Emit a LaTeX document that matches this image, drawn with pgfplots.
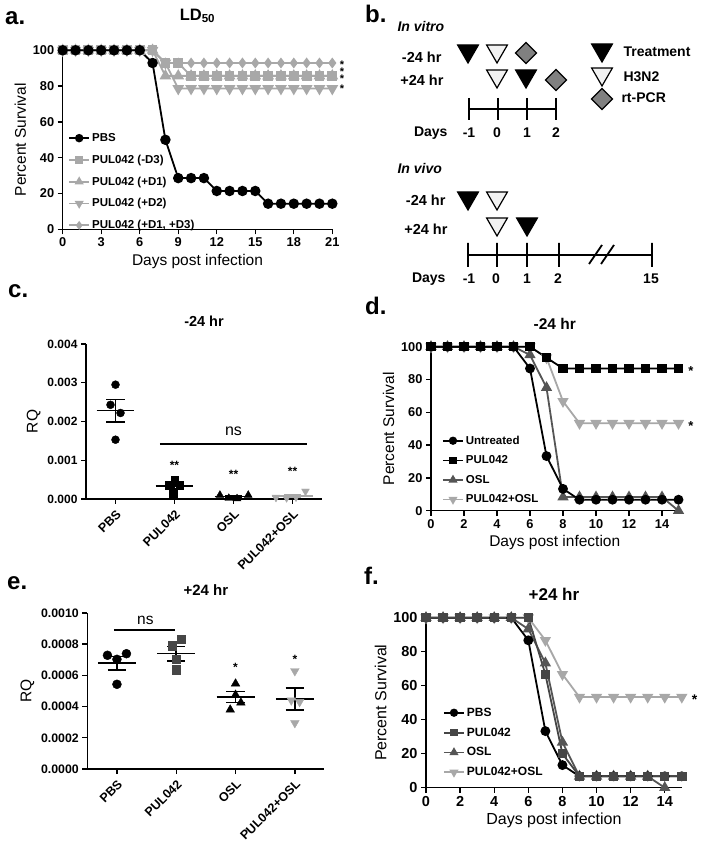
\documentclass[border=0pt]{standalone}
\usepackage{fontspec}
\setmainfont{Liberation Sans}
\usepackage{pgfplots}
\pgfplotsset{compat=1.18}
\definecolor{lg}{RGB}{168,168,168}
\definecolor{dg}{RGB}{85,85,85}
\definecolor{dg2}{RGB}{70,70,70}
\definecolor{diam}{RGB}{128,128,128}
\definecolor{openf}{RGB}{242,242,242}
\newcommand{\fs}[1]{\fontsize{#1}{#1}\selectfont}
\tikzset{
  curve/.style={line width=1.8pt},
  ml/.style={black, line width=1.6pt},
  st/.style={font=\bfseries\fs{12}, anchor=base, yshift=-7pt, inner sep=0pt},
}
\pgfplotsset{
  prism/.style={
    scale only axis, clip=false, anchor=south west,
    axis lines*=left,
    axis line style={line width=1.4pt, black},
    tick align=outside,
    major tick length=5pt,
    tick style={line width=1.4pt, black},
    tick label style={font=\bfseries\fs{12.8}},
    label style={font=\fs{15.5}},
    title style={font=\bfseries\fs{15}, yshift=8pt},
    /pgf/number format/assume math mode=true,
    legend cell align=left,
    legend style={draw=none, fill=none, font=\bfseries\fs{11.5}, anchor=north west, row sep=6pt, inner sep=0pt},
    legend image code/.code={\draw[mark repeat=2,mark phase=2,##1] plot coordinates {(0pt,0pt) (10pt,0pt) (20pt,0pt)};},
    unbounded coords=jump,
  },
}
\begin{document}
\begin{tikzpicture}
\path[use as bounding box] (0pt,0pt) rectangle (704pt,842pt);
% panel letters
\node[anchor=base west, font=\bfseries\fs{24}, inner sep=0pt] at (5pt,817pt) {a.};
\node[anchor=base west, font=\bfseries\fs{24}, inner sep=0pt] at (365pt,819pt) {b.};
\node[anchor=base west, font=\bfseries\fs{24}, inner sep=0pt] at (8pt,544pt) {c.};
\node[anchor=base west, font=\bfseries\fs{24}, inner sep=0pt] at (365pt,527pt) {d.};
\node[anchor=base west, font=\bfseries\fs{24}, inner sep=0pt] at (7pt,252pt) {e.};
\node[anchor=base west, font=\bfseries\fs{24}, inner sep=0pt] at (364pt,257pt) {f.};

% ---------------- panel a
\begin{axis}[prism, at={(62.7pt,612.7pt)}, width=269.6pt, height=179pt,
  xmin=0, xmax=21, ymin=0, ymax=100, xtick={0,3,...,21}, ytick={0,20,...,100},
  xlabel={Days post infection}, ylabel={Percent Survival},
  title={LD\textsubscript{50}}, title style={font=\bfseries\fs{16.5}, yshift=10pt},
  legend style={at={(0.02,0.548)}, row sep=8pt}]
\addlegendimage{black, curve, mark=*, mark size=3.3pt}
\addlegendentry{PBS}
\addlegendimage{lg, curve, mark=square*, mark size=2.8pt}
\addlegendentry{PUL042 (-D3)}
\addlegendimage{lg, curve, mark=triangle*, mark size=3.5pt}
\addlegendentry{PUL042 (+D1)}
\addlegendimage{lg, curve, mark=triangle*, mark size=3.5pt, mark options={rotate=180}}
\addlegendentry{PUL042 (+D2)}
\addlegendimage{lg, curve, mark=diamond*, mark size=3pt}
\addlegendentry{PUL042 (+D1, +D3)}
\addplot[forget plot, lg, curve, mark=triangle*, mark size=5pt, mark options={rotate=180}] coordinates {(0,100)(1,100)(2,100)(3,100)(4,100)(5,100)(6,100)(7,100)(8,92.9)(9,78.6)(10,78.6)(11,78.6)(12,78.6)(13,78.6)(14,78.6)(15,78.6)(16,78.6)(17,78.6)(18,78.6)(19,78.6)(20,78.6)(21,78.6)};
\addplot[forget plot, lg, curve, mark=triangle*, mark size=5pt] coordinates {(0,100)(1,100)(2,100)(3,100)(4,100)(5,100)(6,100)(7,100)(8,85.7)(9,85.7)(10,85.7)(11,85.7)(12,85.7)(13,85.7)(14,85.7)(15,85.7)(16,85.7)(17,85.7)(18,85.7)(19,85.7)(20,85.7)(21,85.7)};
\addplot[forget plot, lg, curve, mark=square*, mark size=4pt] coordinates {(0,100)(1,100)(2,100)(3,100)(4,100)(5,100)(6,100)(7,100)(8,92.9)(9,92.9)(10,85.7)(11,85.7)(12,85.7)(13,85.7)(14,85.7)(15,85.7)(16,85.7)(17,85.7)(18,85.7)(19,85.7)(20,85.7)(21,85.7)};
\addplot[forget plot, lg, curve, mark=diamond*, mark size=4pt] coordinates {(0,100)(1,100)(2,100)(3,100)(4,100)(5,100)(6,100)(7,100)(8,92.9)(9,92.9)(10,92.9)(11,92.9)(12,92.9)(13,92.9)(14,92.9)(15,92.9)(16,92.9)(17,92.9)(18,92.9)(19,92.9)(20,92.9)(21,92.9)};
\addplot[forget plot, black, curve, mark=*, mark size=4.3pt] coordinates {(0,100)(1,100)(2,100)(3,100)(4,100)(5,100)(6,100)(7,92.9)(8,50)(9,28.6)(10,28.6)(11,28.6)(12,21.4)(13,21.4)(14,21.4)(15,21.4)(16,14.3)(17,14.3)(18,14.3)(19,14.3)(20,14.3)(21,14.3)};
\node[st, font=\bfseries\fs{11}, yshift=1pt] at (axis cs:21.75,93) {*};
\node[st, font=\bfseries\fs{11}, yshift=1pt] at (axis cs:21.75,89.3) {*};
\node[st, font=\bfseries\fs{11}, yshift=1pt] at (axis cs:21.75,85.5) {*};
\node[st, font=\bfseries\fs{11}, yshift=1pt] at (axis cs:21.75,79.5) {*};
\end{axis}

% ---------------- panel b (schematic)
\begin{axis}[at={(352pt,522pt)}, anchor=south west, scale only axis, width=352pt, height=320pt,
  xmin=0, xmax=352, ymin=0, ymax=320, y dir=reverse, hide axis, clip=false, unbounded coords=jump]
\addplot[black, line width=1.8pt] coordinates {(117,109)(204,109) (0,nan) (117,98)(117,120) (0,nan) (146,98)(146,120) (0,nan) (175,98)(175,120) (0,nan) (204,98)(204,120)};
\addplot[black, line width=1.8pt] coordinates {(116,255)(300,255) (0,nan) (116,243)(116,267) (0,nan) (145,243)(145,267) (0,nan) (175,243)(175,267) (0,nan) (207,243)(207,267) (0,nan) (300,243)(300,267) (0,nan) (237,264)(250,245) (0,nan) (249,264)(262,245)};
\addplot[only marks, mark=triangle*, mark size=12pt, mark options={rotate=180, fill=black, draw=black, line width=1.2pt}] coordinates {(116,51)(174,76)(250,50)(116,198)(175,224)};
\addplot[only marks, mark=triangle*, mark size=12pt, mark options={rotate=180, fill=openf, draw=black, line width=1.2pt}] coordinates {(145,51)(145,76)(250,74)(145,198)(145,224)};
\addplot[only marks, mark=square*, mark size=7.4pt, mark options={rotate=45, fill=diam, draw=black, line width=1.2pt}] coordinates {(174,53)(204,80)(250,99)};
\node[anchor=west, font=\bfseries\itshape\fs{14}] at (axis cs:42,27) {In vitro};
\node[anchor=east, font=\bfseries\fs{14.5}] at (axis cs:93,57) {-24 hr};
\node[anchor=east, font=\bfseries\fs{14.5}] at (axis cs:95,80) {+24 hr};
\node[anchor=west, font=\bfseries\fs{14}] at (axis cs:268,52) {Treatment};
\node[anchor=west, font=\bfseries\fs{14}] at (axis cs:268,77) {H3N2};
\node[anchor=west, font=\bfseries\fs{14}] at (axis cs:266,98) {rt-PCR};
\node[anchor=east, font=\bfseries\fs{14}] at (axis cs:99,133) {Days};
\node[font=\bfseries\fs{14}] at (axis cs:117,133) {-1};
\node[font=\bfseries\fs{14}] at (axis cs:145,133) {0};
\node[font=\bfseries\fs{14}] at (axis cs:175,133) {1};
\node[font=\bfseries\fs{14}] at (axis cs:204,133) {2};
\node[anchor=west, font=\bfseries\itshape\fs{14}] at (axis cs:42,169) {In vivo};
\node[anchor=east, font=\bfseries\fs{14.5}] at (axis cs:97,200) {-24 hr};
\node[anchor=east, font=\bfseries\fs{14.5}] at (axis cs:99,229) {+24 hr};
\node[anchor=east, font=\bfseries\fs{14}] at (axis cs:97,279) {Days};
\node[font=\bfseries\fs{14}] at (axis cs:117,279) {-1};
\node[font=\bfseries\fs{14}] at (axis cs:144,279) {0};
\node[font=\bfseries\fs{14}] at (axis cs:175,279) {1};
\node[font=\bfseries\fs{14}] at (axis cs:206,279) {2};
\node[font=\bfseries\fs{14}] at (axis cs:299,279) {15};
\end{axis}

% ---------------- panel c
\begin{axis}[prism, at={(86pt,343pt)}, width=236pt, height=155pt,
  xmin=-0.5, xmax=3.5, ymin=0, ymax=0.004,
  xtick={0,1,2,3}, xticklabels={PBS,PUL042,OSL,PUL042+OSL},
  x tick label style={rotate=45, anchor=north east, font=\bfseries\fs{12.5}},
  ytick={0,0.001,0.002,0.003,0.004}, yticklabels={0.000,0.001,0.002,0.003,0.004},
  y tick label style={font=\bfseries\fs{12}},
  scaled y ticks=false, ylabel={RQ}, title={-24 hr}, title style={font=\bfseries\fs{14.5}}]
\addplot[only marks, mark=*, mark size=4pt, black] coordinates {(0,0.00295)(-0.085,0.00243)(0.085,0.00222)(0,0.00153)};
\addplot[only marks, mark=square*, mark size=3.8pt, black] coordinates {(1,0.00049)(0.91,0.00036)(1.09,0.00036)(0.98,0.00012)};
\addplot[only marks, mark=triangle*, mark size=4.5pt, black] coordinates {(1.77,0.0001)(1.92,0.00002)(2.06,0.00001)(2.25,0.0001)};
\addplot[only marks, mark=triangle*, mark size=4.5pt, lg, mark options={rotate=180}] coordinates {(2.72,0.00004)(2.9,0.00003)(3.06,0.00005)(3.22,0.0002)};
\addplot[ml] coordinates {(-0.32,0.00228)(0.32,0.00228) (0,nan) (-0.16,0.00257)(0.16,0.00257) (0,nan) (-0.16,0.00199)(0.16,0.00199) (0,nan) (0,0.00199)(0,0.00257)};
\addplot[ml] coordinates {(0.68,0.00034)(1.32,0.00034) (0,nan) (0.86,0.00042)(1.14,0.00042) (0,nan) (0.86,0.00026)(1.14,0.00026) (0,nan) (1,0.00026)(1,0.00042)};
\addplot[ml] coordinates {(1.68,0.00006)(2.32,0.00006) (0,nan) (1.86,0.00009)(2.14,0.00009) (0,nan) (1.86,0.00003)(2.14,0.00003) (0,nan) (2,0.00003)(2,0.00009)};
\addplot[ml, color=lg] coordinates {(2.66,0.00008)(3.34,0.00008) (0,nan) (2.86,0.00011)(3.14,0.00011) (0,nan) (2.86,0.00005)(3.14,0.00005) (0,nan) (3,0.00005)(3,0.00011)};
\addplot[black, line width=2pt] coordinates {(0.75,0.00141)(3.24,0.00141)};
\node[font=\fs{16}] at (axis cs:2,0.00174) {ns};
\node[st] at (axis cs:1,0.00095) {**};
\node[st] at (axis cs:2,0.00072) {**};
\node[st] at (axis cs:3,0.00078) {**};
\end{axis}

% ---------------- panel d
\begin{axis}[prism, at={(431pt,331.3pt)}, width=247.5pt, height=164pt,
  xmin=0, xmax=15, ymin=0, ymax=100, xtick={0,2,...,14}, ytick={0,20,...,100},
  xlabel={Days post infection}, ylabel={Percent Survival}, title={-24 hr}, title style={font=\bfseries\fs{15.5}},
  legend style={at={(0.044,0.47)}}]
\addlegendimage{black, curve, mark=*, mark size=3.2pt}
\addlegendentry{Untreated}
\addlegendimage{black, curve, mark=square*, mark size=2.8pt}
\addlegendentry{PUL042}
\addlegendimage{dg, curve, mark=triangle*, mark size=3.5pt}
\addlegendentry{OSL}
\addlegendimage{lg, curve, mark=triangle*, mark size=3.5pt, mark options={rotate=180}}
\addlegendentry{PUL042+OSL}
\addplot[forget plot, lg, curve, mark=triangle*, mark size=4.8pt, mark options={rotate=180}] coordinates {(0,100)(1,100)(2,100)(3,100)(4,100)(5,100)(6,100)(7,93.3)(8,66.7)(9,53.3)(10,53.3)(11,53.3)(12,53.3)(13,53.3)(14,53.3)(15,53.3)};
\addplot[forget plot, dg, curve, mark=triangle*, mark size=4.8pt] coordinates {(0,100)(1,100)(2,100)(3,100)(4,100)(5,100)(6,95)(7,75)(8,8.3)(9,8.3)(10,8.3)(11,8.3)(12,8.3)(13,8.3)(14,8.3)(15,0)};
\addplot[forget plot, black, curve, mark=*, mark size=4pt] coordinates {(0,100)(1,100)(2,100)(3,100)(4,100)(5,100)(6,86.7)(7,33.3)(8,13.3)(9,6.7)(10,6.7)(11,6.7)(12,6.7)(13,6.7)(14,6.7)(15,6.7)};
\addplot[forget plot, black, curve, mark=square*, mark size=3.8pt] coordinates {(0,100)(1,100)(2,100)(3,100)(4,100)(5,100)(6,100)(7,93.3)(8,86.7)(9,86.7)(10,86.7)(11,86.7)(12,86.7)(13,86.7)(14,86.7)(15,86.7)};
\node[st, font=\bfseries\fs{13}] at (axis cs:15.75,86.7) {*};
\node[st, font=\bfseries\fs{13}] at (axis cs:15.75,53.3) {*};
\end{axis}

% ---------------- panel e
\begin{axis}[prism, at={(87.3pt,73pt)}, width=237.2pt, height=156pt,
  xmin=-0.5, xmax=3.5, ymin=0, ymax=0.001,
  xtick={0,1,2,3}, xticklabels={PBS,PUL042,OSL,PUL042+OSL},
  x tick label style={rotate=45, anchor=north east, font=\bfseries\fs{12.5}},
  ytick={0,0.0002,0.0004,0.0006,0.0008,0.001}, yticklabels={0.0000,0.0002,0.0004,0.0006,0.0008,0.0010},
  y tick label style={font=\bfseries\fs{12.3}},
  scaled y ticks=false, ylabel={RQ}, title={+24 hr}, title style={font=\bfseries\fs{15}}]
\addplot[only marks, mark=*, mark size=4.5pt, black] coordinates {(-0.16,0.000729)(0.16,0.000739)(0,0.000703)(0,0.000543)};
\addplot[only marks, mark=square*, mark size=4.2pt, dg2] coordinates {(1.08,0.000833)(0.93,0.00079)(1,0.000703)(1,0.000637)};
\addplot[only marks, mark=triangle*, mark size=5pt, black] coordinates {(2,0.000547)(2,0.000475)(2.09,0.000425)(1.91,0.00038)};
\addplot[only marks, mark=triangle*, mark size=5pt, lg, mark options={rotate=180}] coordinates {(3,0.000628)(2.94,0.00044)(3.08,0.00043)(3,0.000295)};
\addplot[ml] coordinates {(-0.32,0.00068)(0.32,0.00068) (0,nan) (-0.155,0.000722)(0.155,0.000722) (0,nan) (-0.155,0.000636)(0.155,0.000636) (0,nan) (0,0.000636)(0,0.000722)};
\addplot[ml] coordinates {(0.68,0.00074)(1.32,0.00074) (0,nan) (0.845,0.000786)(1.155,0.000786) (0,nan) (0.845,0.000692)(1.155,0.000692) (0,nan) (1,0.000692)(1,0.000786)};
\addplot[ml] coordinates {(1.68,0.000462)(2.32,0.000462) (0,nan) (1.845,0.000497)(2.155,0.000497) (0,nan) (1.845,0.000427)(2.155,0.000427) (0,nan) (2,0.000427)(2,0.000497)};
\addplot[ml] coordinates {(2.68,0.000449)(3.32,0.000449) (0,nan) (2.845,0.000519)(3.155,0.000519) (0,nan) (2.845,0.00038)(3.155,0.00038) (0,nan) (3,0.00038)(3,0.000519)};
\addplot[black, line width=2pt] coordinates {(-0.05,0.000893)(0.98,0.000893)};
\node[font=\fs{15.5}] at (axis cs:0.48,0.000955) {ns};
\node[st] at (axis cs:2,0.00067) {*};
\node[st] at (axis cs:3,0.000724) {*};
\end{axis}

% ---------------- panel f
\begin{axis}[prism, at={(426pt,54.3pt)}, width=255.8pt, height=170pt,
  xmin=0, xmax=15, ymin=0, ymax=100, xtick={0,2,...,14}, ytick={0,20,...,100},
  tick label style={font=\bfseries\fs{14.5}}, label style={font=\fs{16}},
  xlabel={Days post infection}, ylabel={Percent Survival}, title={+24 hr}, title style={font=\bfseries\fs{17}},
  legend style={at={(0.066,0.483)}, font=\bfseries\fs{12}}]
\addlegendimage{black, curve, mark=*, mark size=3.2pt}
\addlegendentry{PBS}
\addlegendimage{dg2, curve, mark=square*, mark size=2.8pt}
\addlegendentry{PUL042}
\addlegendimage{dg, curve, mark=triangle*, mark size=3.5pt}
\addlegendentry{OSL}
\addlegendimage{lg, curve, mark=triangle*, mark size=3.5pt, mark options={rotate=180}}
\addlegendentry{PUL042+OSL}
\addplot[forget plot, lg, curve, mark=triangle*, mark size=4.8pt, mark options={rotate=180}] coordinates {(0,100)(1,100)(2,100)(3,100)(4,100)(5,100)(6,100)(7,86.7)(8,66.7)(9,53.3)(10,53.3)(11,53.3)(12,53.3)(13,53.3)(14,53.3)(15,53.3)};
\addplot[forget plot, dg, curve, mark=triangle*, mark size=4.8pt] coordinates {(0,100)(1,100)(2,100)(3,100)(4,100)(5,100)(6,93.3)(7,73.3)(8,26.7)(9,6.7)(10,6.7)(11,6.7)(12,6.7)(13,6.7)(14,0)};
\addplot[forget plot, black, curve, mark=*, mark size=4pt] coordinates {(0,100)(1,100)(2,100)(3,100)(4,100)(5,100)(6,86.7)(7,33.3)(8,13.3)(9,6.7)(10,6.7)(11,6.7)(12,6.7)(13,6.7)(14,6.7)(15,6.7)};
\addplot[forget plot, dg2, curve, mark=square*, mark size=3.8pt] coordinates {(0,100)(1,100)(2,100)(3,100)(4,100)(5,100)(6,100)(7,66.7)(8,20)(9,6.7)(10,6.7)(11,6.7)(12,6.7)(13,6.7)(14,6.7)(15,6.7)};
\node[st, font=\bfseries\fs{14}] at (axis cs:15.75,53.3) {*};
\end{axis}
\end{tikzpicture}
\end{document}
